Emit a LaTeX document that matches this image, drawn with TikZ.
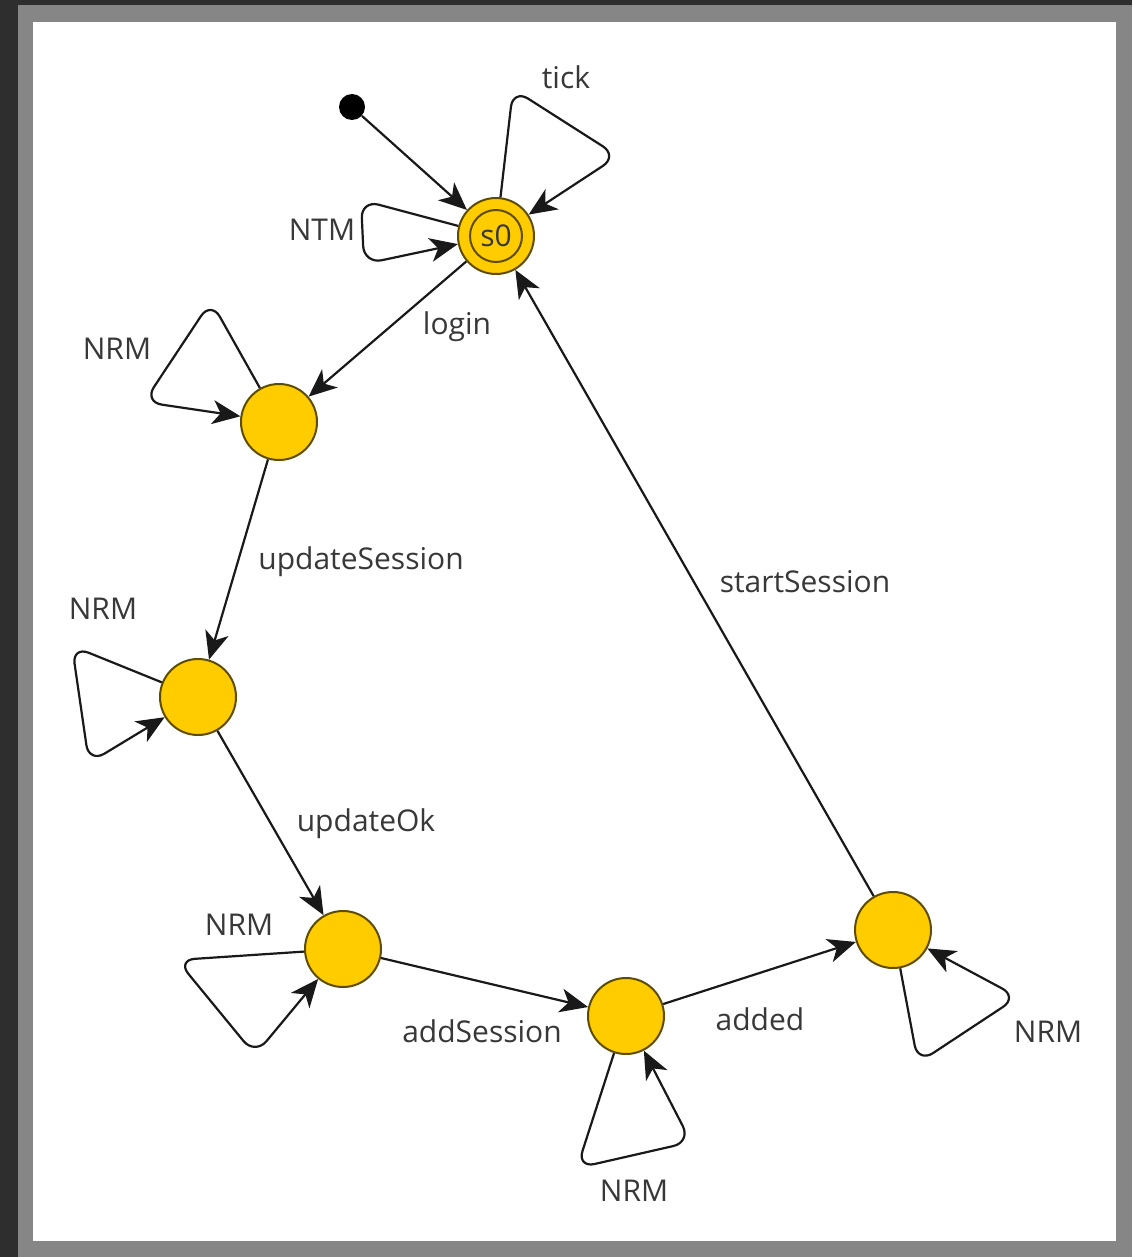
\documentclass[tikz,border=0pt]{standalone}
\usepackage{fontspec}
\setmainfont{Open Sans}
\usetikzlibrary{arrows.meta}
\definecolor{gold}{HTML}{FFCC00}
\definecolor{rim}{HTML}{5E4C00}
\definecolor{txt}{HTML}{383838}
\definecolor{frameouter}{HTML}{2E2E2E}
\definecolor{frameband}{HTML}{868686}
\tikzset{
  stateball/.style={circle, fill=gold, draw=rim, line width=1pt, minimum size=38pt, inner sep=0pt},
  trans/.style={draw=black!90, line width=1.1pt, -{Stealth[length=14pt, width=12pt, inset=4pt]}},
  selfloop/.style={trans, rounded corners=9pt},
  lbl/.style={text=txt, font=\fontsize{15}{18}\selectfont, inner sep=0pt},
}
\begin{document}
\begin{tikzpicture}[x=0.5pt, y=-0.5pt]
\useasboundingbox (0,0) rectangle (1132,1257);
% frame
\fill[frameouter] (0,0) rectangle (1132,1257);
\fill[frameband] (18,5) rectangle (1132,1257);
\fill[white] (33,22) rectangle (1116,1241);

% nodes
\node[circle, fill=black, minimum size=13pt, inner sep=0pt] (init) at (352,107) {};
\node[stateball] (s0) at (496,236) {};
\node[circle, draw=rim, line width=1pt, minimum size=26pt, inner sep=0pt, text=txt, font=\fontsize{15}{18}\selectfont] (s0in) at (496,236) {s0};
\node[stateball] (n1) at (279,422) {};
\node[stateball] (n2) at (198,697) {};
\node[stateball] (n3) at (343,949) {};
\node[stateball] (n4) at (626,1016) {};
\node[stateball] (n5) at (893,930) {};

% transitions
\draw[trans] (init) -- (s0);
\draw[trans] (s0) -- (n1);
\draw[trans] (n1) -- (n2);
\draw[trans] (n2) -- (n3);
\draw[trans] (n3) -- (n4);
\draw[trans] (n4) -- (n5);
\draw[trans] (n5) -- (s0);

% self loops
\draw[selfloop] (s0) -- (513,89) -- (618,156) -- (s0);
\draw[selfloop] (s0) -- (361,200) -- (364,264) -- (s0);
\draw[selfloop] (n1) -- (211,301) -- (144,402) -- (n1);
\draw[selfloop] (n2) -- (72,646) -- (89,763) -- (n2);
\draw[selfloop] (n3) -- (177,960) -- (255,1055) -- (n3);
\draw[selfloop] (n4) -- (577,1168) -- (691,1142) -- (n4);
\draw[selfloop] (n5) -- (918,1063) -- (1018,997) -- (n5);

% labels
\node[lbl] (ltick) at (566,77) {tick};
\node[lbl] (lntm) at (322,230) {NTM};
\node[lbl] (lnrm1) at (117,349) {NRM};
\node[lbl] (lnrm2) at (103,609) {NRM};
\node[lbl] (lnrm3) at (239,925) {NRM};
\node[lbl] (lnrm4) at (634,1191) {NRM};
\node[lbl] (lnrm5) at (1048,1032) {NRM};
\node[lbl] (llogin) at (457,327) {login};
\node[lbl] (lupds) at (361,562) {updateSession};
\node[lbl] (lupok) at (366,824) {updateOk};
\node[lbl] (ladds) at (482,1031) {addSession};
\node[lbl] (ladded) at (760,1019) {added};
\node[lbl] (lstart) at (805,582) {startSession};
\end{tikzpicture}
\end{document}
